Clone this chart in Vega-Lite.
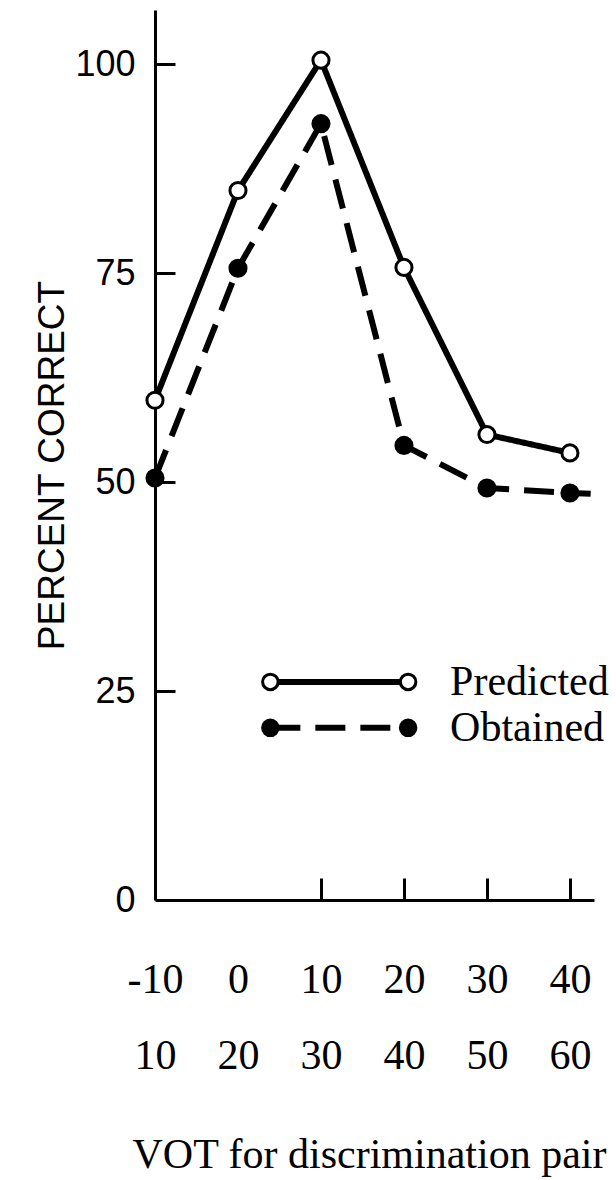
{
  "$schema": "https://vega.github.io/schema/vega-lite/v6.json",
  "width": 439,
  "height": 890,
  "autosize": {"type": "none"},
  "padding": {"left": 155, "top": 10, "right": 22, "bottom": 280},
  "background": "white",
  "config": {"view": {"stroke": null}},
  "resolve": {"axis": {"x": "independent", "y": "independent"}},
  "datasets": {
    "obs": [
      {"series": "Predicted", "vot": -10, "pct": 59.8},
      {"series": "Predicted", "vot": 0, "pct": 84.9},
      {"series": "Predicted", "vot": 10, "pct": 100.5},
      {"series": "Predicted", "vot": 20, "pct": 75.7},
      {"series": "Predicted", "vot": 30, "pct": 55.7},
      {"series": "Predicted", "vot": 40, "pct": 53.5},
      {"series": "Obtained", "vot": -10, "pct": 50.5},
      {"series": "Obtained", "vot": 0, "pct": 75.6},
      {"series": "Obtained", "vot": 10, "pct": 92.9},
      {"series": "Obtained", "vot": 20, "pct": 54.4},
      {"series": "Obtained", "vot": 30, "pct": 49.3},
      {"series": "Obtained", "vot": 40, "pct": 48.7},
      {"series": "Obtained", "vot": 42.5, "pct": 48.6}
    ],
    "legend": [
      {"series": "Predicted", "vot": 3.9, "vot2": 20.5, "pct": 26.1},
      {"series": "Obtained", "vot": 3.9, "vot2": 20.5, "pct": 20.6}
    ]
  },
  "layer": [
    {
      "data": {"name": "obs"},
      "mark": {"type": "line", "strokeWidth": 6, "color": "black"},
      "encoding": {
        "x": {
          "field": "vot", "type": "quantitative",
          "scale": {"domain": [-10, 42.9], "nice": false, "zero": false},
          "axis": {
            "values": [-10, 0, 10, 20, 30, 40],
            "title": "VOT for discrimination pair",
            "titleFont": "Liberation Serif", "titleFontSize": 42, "titleFontWeight": "normal", "titleColor": "black",
            "titleX": 214, "titleAlign": "center", "titleY": 267, "titleBaseline": "alphabetic",
            "labelFont": "Liberation Serif", "labelFontSize": 42, "labelColor": "black",
            "labelExpr": "[toString(datum.value), toString(datum.value + 20)]",
            "labelLineHeight": 76, "labelPadding": 59, "labelFlush": false, "labelOverlap": false,
            "labelBaseline": "top",
            "ticks": false, "tickSize": 0,
            "domainColor": "black", "domainWidth": 3, "grid": false
          }
        },
        "y": {
          "field": "pct", "type": "quantitative",
          "scale": {"domain": [0, 106.5], "nice": false, "zero": false},
          "axis": {
            "values": [0, 25, 50, 75, 100],
            "title": "PERCENT CORRECT",
            "titleFont": "Liberation Sans", "titleFontSize": 37, "titleFontWeight": "normal", "titleColor": "black",
            "titleX": -103, "titleY": 455, "titleBaseline": "middle", "titleAngle": -90, "titleAlign": "center",
            "labelFont": "Liberation Sans", "labelFontSize": 36, "labelColor": "black",
            "labelPadding": 20, "labelFlush": false, "labelOverlap": false,
            "ticks": false, "tickSize": 0,
            "domainColor": "black", "domainWidth": 3, "grid": false
          }
        },
        "detail": {"field": "series"},
        "strokeDash": {
          "field": "series", "type": "nominal",
          "scale": {"domain": ["Predicted", "Obtained"], "range": [[1, 0], [30, 15]]},
          "legend": null
        }
      }
    },
    {
      "data": {"name": "obs"},
      "transform": [{"filter": "datum.vot <= 40"}],
      "mark": {"type": "point", "shape": "circle", "size": 260, "strokeWidth": 3, "stroke": "black", "opacity": 1, "filled": true},
      "encoding": {
        "x": {
          "field": "vot", "type": "quantitative",
          "axis": {
            "orient": "top", "offset": -890, "values": [10, 20, 30, 40],
            "labels": false, "domain": false, "grid": false, "title": null,
            "ticks": true, "tickSize": 22, "tickWidth": 3, "tickColor": "black"
          }
        },
        "y": {
          "field": "pct", "type": "quantitative",
          "axis": {
            "orient": "right", "offset": -439, "values": [25, 50, 75, 100],
            "labels": false, "domain": false, "grid": false, "title": null,
            "ticks": true, "tickSize": 20, "tickWidth": 3, "tickColor": "black"
          }
        },
        "fill": {
          "field": "series", "type": "nominal",
          "scale": {"domain": ["Predicted", "Obtained"], "range": ["white", "black"]},
          "legend": null
        }
      }
    },
    {
      "data": {"name": "legend"},
      "mark": {"type": "rule", "strokeWidth": 6, "color": "black"},
      "encoding": {
        "x": {"field": "vot", "type": "quantitative", "axis": null},
        "x2": {"field": "vot2"},
        "y": {"field": "pct", "type": "quantitative", "axis": null},
        "strokeDash": {"field": "series", "type": "nominal", "legend": null}
      }
    },
    {
      "data": {"name": "legend"},
      "mark": {"type": "point", "shape": "circle", "size": 240, "strokeWidth": 3, "stroke": "black", "opacity": 1, "filled": true},
      "encoding": {
        "x": {"field": "vot", "type": "quantitative", "axis": null},
        "y": {"field": "pct", "type": "quantitative", "axis": null},
        "fill": {"field": "series", "type": "nominal", "legend": null}
      }
    },
    {
      "data": {"name": "legend"},
      "mark": {"type": "point", "shape": "circle", "size": 240, "strokeWidth": 3, "stroke": "black", "opacity": 1, "filled": true},
      "encoding": {
        "x": {"field": "vot2", "type": "quantitative", "axis": null},
        "y": {"field": "pct", "type": "quantitative", "axis": null},
        "fill": {"field": "series", "type": "nominal", "legend": null}
      }
    },
    {
      "data": {"name": "legend"},
      "mark": {"type": "text", "font": "Liberation Serif", "fontSize": 42, "align": "left", "baseline": "middle", "dx": 42, "color": "black"},
      "encoding": {
        "x": {"field": "vot2", "type": "quantitative", "axis": null},
        "y": {"field": "pct", "type": "quantitative", "axis": null},
        "text": {"field": "series"}
      }
    }
  ]
}
